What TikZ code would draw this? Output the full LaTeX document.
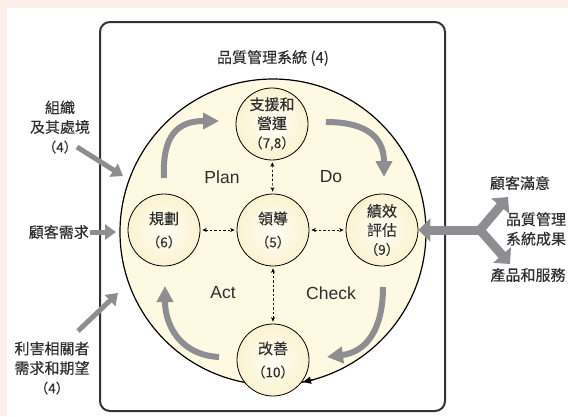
\documentclass[tikz,border=0pt]{standalone}
\usepackage{fontspec}
\setmainfont{Liberation Sans}
\newfontfamily\cjk[FakeBold=0.15]{Noto Sans CJK TC}
\usetikzlibrary{arrows.meta,shadings}
\definecolor{pinkbg}{RGB}{252,239,234}
\definecolor{cream}{RGB}{253,249,227}
\definecolor{creamin}{RGB}{255,254,246}
\definecolor{creamout}{RGB}{250,242,208}
\definecolor{arrowgray}{RGB}{142,142,146}
\definecolor{txt}{RGB}{45,45,45}
\newcommand{\numtxt}[1]{{\fontsize{13.5}{16}\selectfont （#1）}}
\begin{document}
\begin{tikzpicture}[x=1pt,y=-1pt,
  lab/.style={font=\cjk\fontsize{15}{19.5}\selectfont, text=txt, align=center, inner sep=0pt},
  phase/.style={font=\fontsize{17.5}{20}\selectfont, text=txt, inner sep=0pt},
  smallc/.style={circle, draw=black, line width=0.8pt, minimum size=72pt, inner sep=0pt, align=center, inner color=creamin, outer color=creamout, font=\cjk\fontsize{15}{19}\selectfont, text=txt},
  cyclearrow/.style={draw=arrowgray, line width=6pt, -{Triangle[width=16pt,length=16pt]}},
  inarrow/.style={draw=arrowgray, line width=5pt, -{Triangle[width=15pt,length=11pt]}},
  outarrow/.style={draw=arrowgray, line width=9pt, -{Triangle[width=23pt,length=12pt]}},
  dasharrow/.style={dash pattern=on 2.5pt off 2pt, line width=0.6pt, shorten >=2pt, shorten <=2pt, {Stealth[length=4.5pt,width=4pt]}-{Stealth[length=4.5pt,width=4pt]}},
]
\useasboundingbox (0,0) rectangle (568,416);
\fill[pinkbg] (0,0) rectangle (568,416);
\fill[white] (7,8) rectangle (568,416);

% outer system box
\draw[line width=2pt, draw=black!80, rounded corners=10pt] (100,22) rectangle (445,411);
\node[lab] (title) at (273,58) {品質管理系統 (4)};

% big circle
\node[circle, draw=black, line width=1.2pt, fill=cream, minimum size=306pt, inner sep=0pt] (big) at (273,232) {};

% PDCA cycle arrows
\draw[cyclearrow] (164,178) .. controls (162,135) and (178,121) .. (219,121);
\draw[cyclearrow] (326,122) .. controls (370,122) and (384,140) .. (384,177);
\draw[cyclearrow] (383,287) .. controls (383,330) and (366,352) .. (327,357);
\draw[cyclearrow] (219,357) .. controls (180,355) and (165,325) .. (165,286);

% small circles
\node[smallc] (supp) at (272,124) {支援和\\營運\\\numtxt{7,8}};
\node[smallc] (plan) at (164,230) {規劃\\[4pt]\numtxt{6}};
\node[smallc] (lead) at (273,230) {領導\\[4pt]\numtxt{5}};
\node[smallc] (perf) at (382,230) {績效\\評估\\\numtxt{9}};
\node[smallc] (impr) at (273,360) {改善\\[4pt]\numtxt{10}};

% dashed links
\draw[dasharrow] (supp) -- (lead);
\draw[dasharrow] (lead) -- (impr);
\draw[dasharrow] (plan) -- (lead);
\draw[dasharrow] (lead) -- (perf);

% arrow tip on the big circle
\draw[line width=1.2pt, -{Triangle[length=8pt,width=7pt]}] (314,379.5) -- (303,382);

% phase labels
\node[phase] (plantxt) at (222,177) {Plan};
\node[phase] (dotxt) at (331,177) {Do};
\node[phase] (acttxt) at (223,293) {Act};
\node[phase] (checktxt) at (331,293) {Check};

% inputs
\node[lab] (org) at (60,127) {組織\\及其處境\\\numtxt{4}};
\node[lab, anchor=east] (need) at (89,232) {顧客需求};
\node[lab] (stake) at (52,368) {利害相關者\\需求和期望\\\numtxt{4}};
\coordinate (orgstart) at (77,147);
\coordinate (orgtip) at (123,176);
\coordinate (needstart) at (90,232);
\coordinate (needtip) at (116,232);
\coordinate (stakestart) at (78,331);
\coordinate (staketip) at (118,293);
\draw[inarrow] (orgstart) -- (orgtip);
\draw[inarrow] (needstart) -- (needtip);
\draw[inarrow] (stakestart) -- (staketip);

% outputs
\node[lab] (sat) at (520,183) {顧客滿意};
\node[lab] (res) at (536,229) {品質管理\\系統成果};
\node[lab] (prod) at (528,275) {產品和服務};
\coordinate (jn) at (480,230);
\coordinate (jnend) at (485,230);
\coordinate (uptip) at (508,197);
\coordinate (dntip) at (510,264);
\draw[outarrow] (jnend) -- (perf.east);
\draw[outarrow] (jn) -- (uptip);
\draw[outarrow] (jn) -- (dntip);
\end{tikzpicture}
\end{document}
